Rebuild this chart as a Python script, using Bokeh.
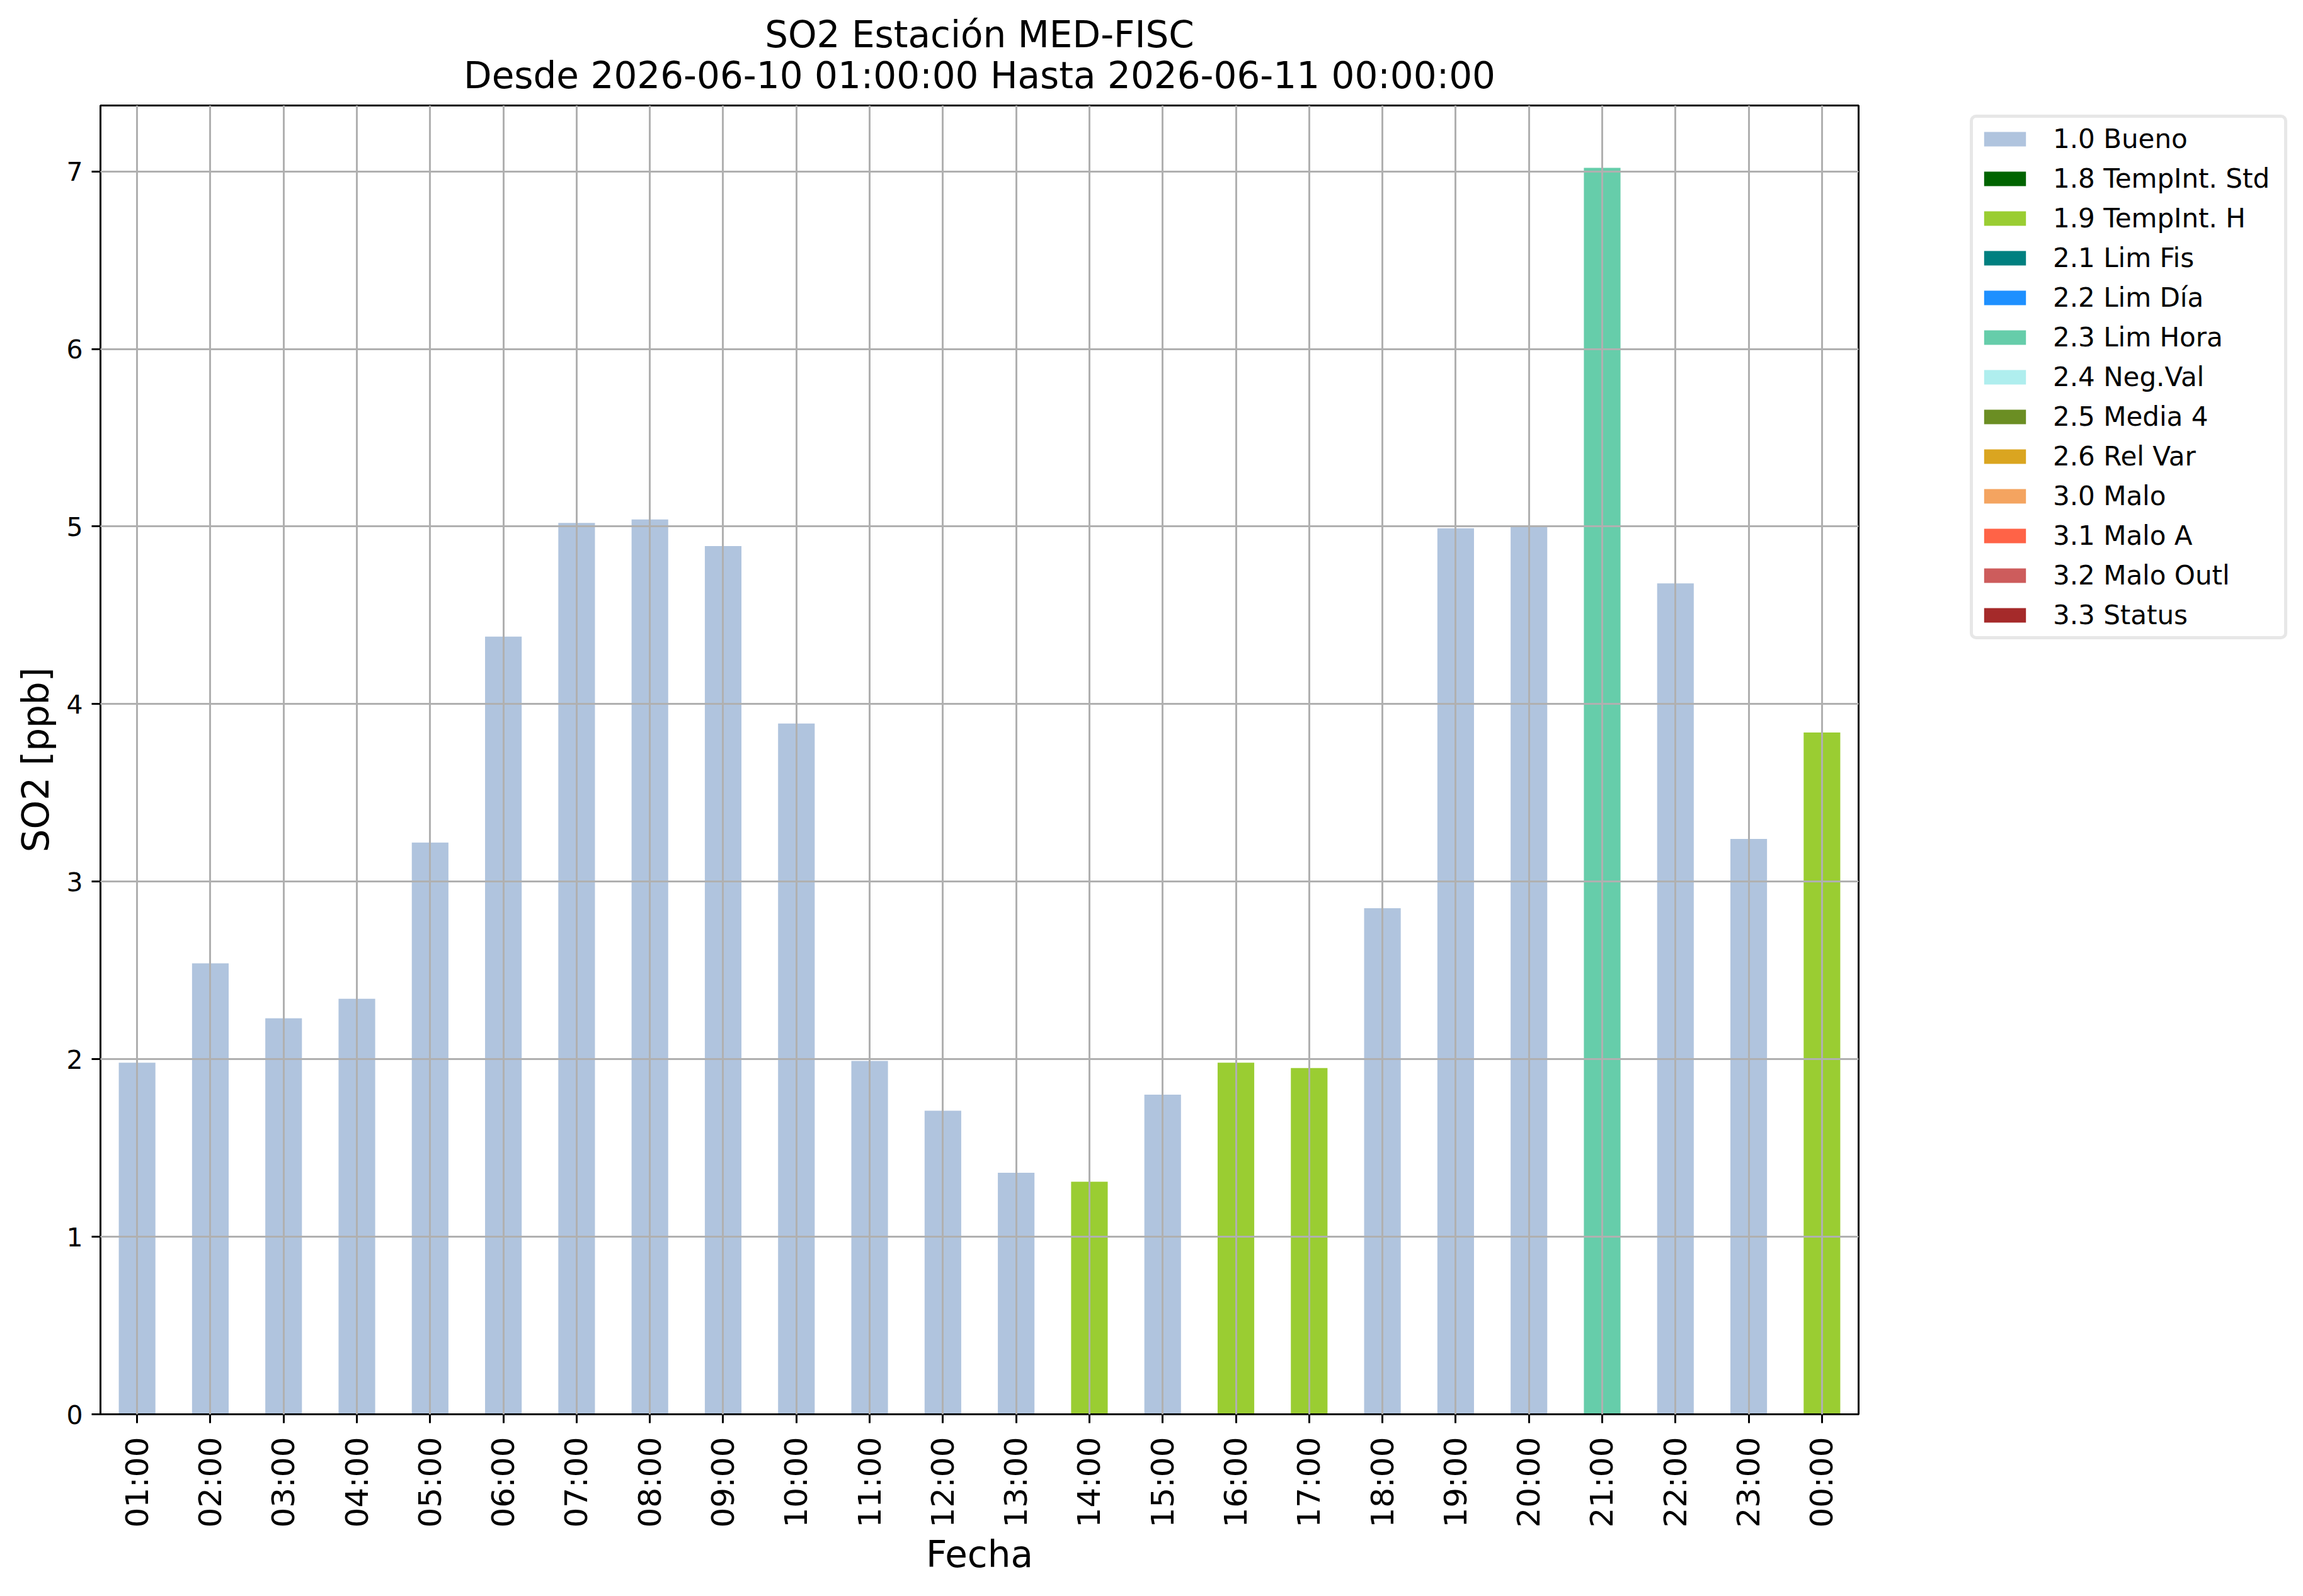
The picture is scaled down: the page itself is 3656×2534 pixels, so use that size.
from bokeh.plotting import figure
from bokeh.models import ColumnDataSource, FactorRange, Range1d, FixedTicker, Legend
from bokeh.embed import file_html
from bokeh.resources import INLINE

# ---- data ----
hours = ["01:00", "02:00", "03:00", "04:00", "05:00", "06:00", "07:00", "08:00",
         "09:00", "10:00", "11:00", "12:00", "13:00", "14:00", "15:00", "16:00",
         "17:00", "18:00", "19:00", "20:00", "21:00", "22:00", "23:00", "00:00"]
so2 = [1.98, 2.54, 2.23, 2.34, 3.22, 4.38, 5.02, 5.04, 4.89, 3.89, 1.99, 1.71,
       1.36, 1.31, 1.80, 1.98, 1.95, 2.85, 4.99, 5.00, 7.02, 4.68, 3.24, 3.84]
flags = ["1.0", "1.0", "1.0", "1.0", "1.0", "1.0", "1.0", "1.0", "1.0", "1.0", "1.0", "1.0",
         "1.0", "1.9", "1.0", "1.9", "1.9", "1.0", "1.0", "1.0", "2.3", "1.0", "1.0", "1.9"]
cat_codes = ["1.0", "1.8", "1.9", "2.1", "2.2", "2.3", "2.4", "2.5", "2.6", "3.0", "3.1", "3.2", "3.3"]
cat_labels = ["1.0 Bueno", "1.8 TempInt. Std", "1.9 TempInt. H", "2.1 Lim Fis", "2.2 Lim Día",
              "2.3 Lim Hora", "2.4 Neg.Val", "2.5 Media 4", "2.6 Rel Var", "3.0 Malo",
              "3.1 Malo A", "3.2 Malo Outl", "3.3 Status"]
cat_colors = ["#B0C4DE", "#006400", "#9ACD32", "#008080", "#1E90FF", "#66CDAA", "#AFEEEE",
              "#6B8E23", "#DAA520", "#F4A460", "#FF6347", "#CD5C5C", "#A52A2A"]
y_ticks = [0, 1, 2, 3, 4, 5, 6, 7]
title_1 = "SO2 Estación MED-FISC"
title_2 = "Desde 2026-06-10 01:00:00 Hasta 2026-06-11 00:00:00"

FONT = "DejaVu Sans"

data = {"hour": hours}
keys = []
for i, code in enumerate(cat_codes):
    k = "c%d" % i
    keys.append(k)
    data[k] = [v if f == code else 0.0 for v, f in zip(so2, flags)]
source = ColumnDataSource(data)

BL, BR, BT, BB = 159, 690, 167, 273
FW = 2791
FH = 2078

p = figure(frame_width=FW, frame_height=FH, x_range=FactorRange(*hours),
           y_range=Range1d(0, max(so2) * 1.05),
           output_backend="svg", toolbar_location=None, title=title_1 + "\n" + title_2,
           min_border_left=BL, min_border_right=BR, min_border_top=BT, min_border_bottom=BB)
p.background_fill_color = "white"
p.border_fill_color = "white"
p.outline_line_color = "black"
p.outline_line_width = 3

p.title.text_font = FONT
p.title.text_font_size = "58px"
p.title.text_font_style = "normal"
p.title.text_color = "black"
p.title.align = "center"
try:
    p.title.text_align = "center"
except Exception:
    pass
p.title.text_line_height = 0.955
p.title.standoff = 27

renderers = p.vbar_stack(keys, x="hour", width=0.5, source=source,
                         fill_color=cat_colors, line_color=None)

# axes
for ax in (p.xaxis[0], p.yaxis[0]):
    ax.axis_line_color = "black"
    ax.axis_line_width = 3
    ax.major_tick_line_color = "black"
    ax.major_tick_line_width = 3
    ax.major_tick_out = 14
    ax.major_tick_in = 0
    ax.minor_tick_line_color = None
    ax.major_label_text_font = FONT
    ax.major_label_text_color = "black"
    ax.axis_label_text_font = FONT
    ax.axis_label_text_font_style = "normal"
    ax.axis_label_text_font_size = "58px"
    ax.axis_label_text_color = "black"

p.xaxis.axis_label = "Fecha"
p.xaxis.major_label_orientation = 3.14159265 / 2
p.xaxis.major_label_text_font_size = "50px"
p.xaxis.major_label_standoff = 22
p.xaxis.axis_label_standoff = 5

p.yaxis.axis_label = "SO2 [ppb]"
p.yaxis.ticker = FixedTicker(ticks=y_ticks)
p.yaxis.major_label_text_font_size = "41px"
p.yaxis.major_label_standoff = 14
p.yaxis.axis_label_standoff = 11

# grid above bars
p.xgrid.grid_line_color = "#b0b0b0"
p.ygrid.grid_line_color = "#b0b0b0"
p.xgrid.grid_line_width = 3
p.ygrid.grid_line_width = 3
p.ygrid.ticker = FixedTicker(ticks=y_ticks)
p.xgrid.level = "guide"
p.ygrid.level = "guide"

LEG_H = 827
legend = Legend(items=[(lab, [r]) for lab, r in zip(cat_labels, renderers)],
                location=(177, FH - 21 - LEG_H), orientation="vertical")
legend.label_text_font = FONT
legend.label_text_font_size = "42px"
legend.label_text_color = "black"
legend.glyph_width = 83
legend.glyph_height = 29
legend.label_height = 29
legend.label_width = 358
legend.label_standoff = 35
legend.spacing = 14
legend.padding = 9
legend.margin = 0
legend.border_line_color = "#d0d0d0"
legend.border_line_width = 5
legend.background_fill_color = "white"
legend.background_fill_alpha = 1.0
try:
    legend.border_radius = 10
except Exception:
    pass
p.add_layout(legend, "right")

open("out.html", "w").write(file_html(p, INLINE))
